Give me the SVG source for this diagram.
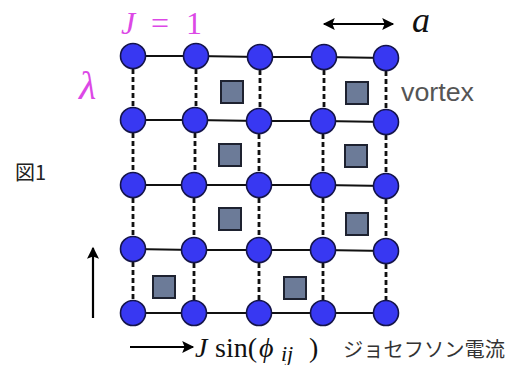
<svg xmlns="http://www.w3.org/2000/svg" width="508" height="365" viewBox="0 0 508 365">
<defs>
<style>
.site{fill:#3838f2;stroke:#14144a;stroke-width:1.6}
.vort{fill:#6c7b98;stroke:#1e2230;stroke-width:2}
.bond{stroke:#111;stroke-width:2.2;fill:none}
.link{stroke:#111;stroke-width:2.8;stroke-dasharray:5 3;fill:none}
.arr{stroke:#000;stroke-width:2.2;fill:none}
.mag{fill:#dc48e6;font-family:"Liberation Serif","DejaVu Serif",serif}
.math{fill:#111;font-family:"Liberation Serif","DejaVu Serif",serif}
.lbl{fill:#555;font-family:"Liberation Sans","DejaVu Sans",sans-serif}
</style>
<marker id="ah" viewBox="0 0 10 10" refX="9" refY="5" markerWidth="13" markerHeight="12" orient="auto-start-reverse" markerUnits="userSpaceOnUse">
<path d="M0,0 L10,5 L0,10 L2,5 z" fill="#000"/>
</marker>
</defs>
<rect width="508" height="365" fill="#fff"/>
<g id="connectors">
<path class="bond" d="M133,56 L196,56 L260,57 L324,57 L386,58"/>
<path class="bond" d="M133,120 L195,120 L259,121 L323,121 L386,122"/>
<path class="bond" d="M133,185 L194,185 L259,185 L323,185 L386,186"/>
<path class="bond" d="M133,249 L194,250 L259,250 L323,250 L386,251"/>
<path class="bond" d="M133,313 L194,313 L259,313 L323,313 L386,313"/>
<path class="link" d="M133,69 V108 M196,69 V108 M260,70 V109 M324,70 V109 M386,71 V110"/>
<path class="link" d="M133,133 V173 M195,133 V173 M259,134 V173 M323,134 V173 M386,135 V174"/>
<path class="link" d="M133,198 V237 M194,198 V238 M259,198 V238 M323,198 V238 M386,199 V239"/>
<path class="link" d="M133,262 V301 M194,263 V301 M259,263 V301 M323,263 V301 M386,264 V301"/>
</g>
<g id="node-r0c0"><circle class="site" cx="133" cy="56" r="12.5"/></g>
<g id="node-r0c1"><circle class="site" cx="196" cy="56" r="12.5"/></g>
<g id="node-r0c2"><circle class="site" cx="260" cy="57" r="12.5"/></g>
<g id="node-r0c3"><circle class="site" cx="324" cy="57" r="12.5"/></g>
<g id="node-r0c4"><circle class="site" cx="386" cy="58" r="12.5"/></g>
<g id="node-r1c0"><circle class="site" cx="133" cy="120" r="12.5"/></g>
<g id="node-r1c1"><circle class="site" cx="195" cy="120" r="12.5"/></g>
<g id="node-r1c2"><circle class="site" cx="259" cy="121" r="12.5"/></g>
<g id="node-r1c3"><circle class="site" cx="323" cy="121" r="12.5"/></g>
<g id="node-r1c4"><circle class="site" cx="386" cy="122" r="12.5"/></g>
<g id="node-r2c0"><circle class="site" cx="133" cy="185" r="12.5"/></g>
<g id="node-r2c1"><circle class="site" cx="194" cy="185" r="12.5"/></g>
<g id="node-r2c2"><circle class="site" cx="259" cy="185" r="12.5"/></g>
<g id="node-r2c3"><circle class="site" cx="323" cy="185" r="12.5"/></g>
<g id="node-r2c4"><circle class="site" cx="386" cy="186" r="12.5"/></g>
<g id="node-r3c0"><circle class="site" cx="133" cy="249" r="12.5"/></g>
<g id="node-r3c1"><circle class="site" cx="194" cy="250" r="12.5"/></g>
<g id="node-r3c2"><circle class="site" cx="259" cy="250" r="12.5"/></g>
<g id="node-r3c3"><circle class="site" cx="323" cy="250" r="12.5"/></g>
<g id="node-r3c4"><circle class="site" cx="386" cy="251" r="12.5"/></g>
<g id="node-r4c0"><circle class="site" cx="133" cy="313" r="12.5"/></g>
<g id="node-r4c1"><circle class="site" cx="194" cy="313" r="12.5"/></g>
<g id="node-r4c2"><circle class="site" cx="259" cy="313" r="12.5"/></g>
<g id="node-r4c3"><circle class="site" cx="323" cy="313" r="12.5"/></g>
<g id="node-r4c4"><circle class="site" cx="386" cy="313" r="12.5"/></g>
<g id="vortex-1"><rect class="vort" x="221" y="81" width="22" height="22"/></g>
<g id="vortex-2"><rect class="vort" x="346" y="82" width="22" height="22"/></g>
<g id="vortex-3"><rect class="vort" x="219" y="144" width="22" height="22"/></g>
<g id="vortex-4"><rect class="vort" x="345" y="145" width="22" height="22"/></g>
<g id="vortex-5"><rect class="vort" x="219" y="208" width="22" height="22"/></g>
<g id="vortex-6"><rect class="vort" x="346" y="213" width="22" height="22"/></g>
<g id="vortex-7"><rect class="vort" x="153" y="276" width="22" height="22"/></g>
<g id="vortex-8"><rect class="vort" x="284" y="277" width="22" height="22"/></g>
<g id="arrows">
<line class="arr" x1="324" y1="24" x2="393" y2="24" marker-start="url(#ah)" marker-end="url(#ah)"/>
<line class="arr" x1="93" y1="318" x2="93" y2="248" marker-end="url(#ah)"/>
<line class="arr" x1="130" y1="347" x2="193" y2="347" marker-end="url(#ah)"/>
</g>
<g id="labels">
<text class="mag" x="121" y="34" font-size="32" font-style="italic">J</text>
<text class="mag" x="151" y="34" font-size="32">=</text>
<text class="mag" x="186" y="34" font-size="32">1</text>
<text class="mag" x="79" y="99" font-size="40" font-style="italic">λ</text>
<text class="math" x="412" y="32" font-size="36" font-style="italic">a</text>
<text class="lbl" x="401" y="101" font-size="25" textLength="73" lengthAdjust="spacingAndGlyphs">vortex</text>
<text x="15" y="180" font-size="20" fill="#222" font-family="'Noto Sans CJK JP','Noto Sans CJK SC',sans-serif">図1</text>
<text class="math" x="195" y="357" font-size="28" font-style="italic">J</text>
<text class="math" x="215" y="357" font-size="28">sin(</text>
<text class="math" x="259" y="357" font-size="28" font-style="italic">ϕ</text>
<text class="math" x="281" y="361" font-size="22" font-style="italic">ij</text>
<text class="math" x="309" y="357" font-size="28">)</text>
<text x="343" y="357" font-size="20" fill="#333" textLength="162" lengthAdjust="spacingAndGlyphs" font-family="'Noto Sans CJK JP','Noto Sans CJK SC',sans-serif">ジョセフソン電流</text>
</g>
</svg>
